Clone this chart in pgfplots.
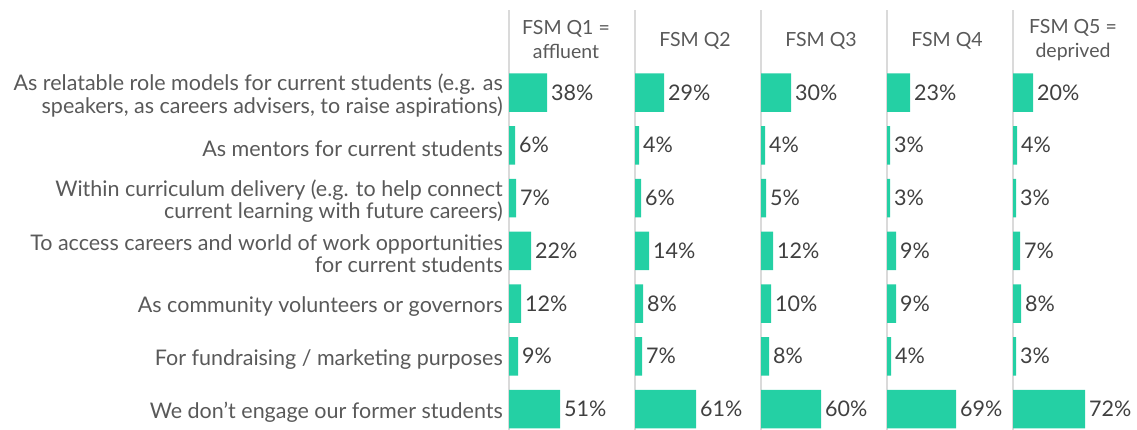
\documentclass[border=0pt]{standalone}
\usepackage{pgfplots}
\pgfplotsset{compat=1.18}
\usepackage{fontspec}
\setmainfont{Lato}
\definecolor{barc}{RGB}{36,208,164}
\definecolor{lab}{RGB}{89,89,89}
\definecolor{val}{RGB}{64,64,64}
\definecolor{sep}{RGB}{218,218,218}
\newcommand{\lf}{\fontsize{21.5}{22.5}\selectfont}
\newcommand{\hf}{\fontsize{19.5}{24}\selectfont}

\pgfplotsset{panel/.style={
  xbar, bar width=0.73, bar shift=0pt,
  scale only axis, width=126pt, height=420pt,
  xmin=0, xmax=126, ymin=-1.564, ymax=6.398, y dir=reverse,
  axis lines*=left,
  x axis line style={draw=none},
  y axis line style={draw=sep, line width=2pt},
  xtick=\empty, ytick=\empty,
  major tick length=0pt,
  clip=false,
  point meta=x,
  nodes near coords={\pgfmathprintnumber[assume math mode=true]{\pgfplotspointmeta}\%},
  nodes near coords style={anchor=west, font=\lf, text=val, inner sep=0pt, xshift=4pt},
}}

\begin{document}
\begin{tikzpicture}
\useasboundingbox (0,0) rectangle (1137pt,-430pt);

\begin{axis}[panel, at={(509pt,-10pt)}, anchor=north west,
  ytick={0,1,2,3,4,5,6},
  yticklabels={{As relatable role models for current students (e.g. as\\speakers, as careers advisers, to raise aspirations)},
    {As mentors for current students},
    {Within curriculum delivery (e.g. to help connect\\current learning with future careers)},
    {To access careers and world of work opportunities\\for current students},
    {As community volunteers or governors},
    {For fundraising / marketing purposes},
    {We don’t engage our former students}},
  yticklabel style={align=right, font=\lf, text=lab, inner sep=0pt, xshift=-6pt, yshift=-3pt},
]
\addplot[fill=barc, draw=none] coordinates {(38,0) (6,1) (7,2) (22,3) (12,4) (9,5) (51,6)};
\node[align=center, font=\hf, text=lab] at (axis cs:57,-1.0) {FSM Q1 =\\affluent};
\end{axis}

\begin{axis}[panel, at={(635pt,-10pt)}, anchor=north west]
\addplot[fill=barc, draw=none] coordinates {(29,0) (4,1) (6,2) (14,3) (8,4) (7,5) (61,6)};
\node[align=center, font=\hf, text=lab] at (axis cs:60,-0.98) {FSM Q2};
\end{axis}

\begin{axis}[panel, at={(761pt,-10pt)}, anchor=north west]
\addplot[fill=barc, draw=none] coordinates {(30,0) (4,1) (5,2) (12,3) (10,4) (8,5) (60,6)};
\node[align=center, font=\hf, text=lab] at (axis cs:60,-0.98) {FSM Q3};
\end{axis}

\begin{axis}[panel, at={(887pt,-10pt)}, anchor=north west]
\addplot[fill=barc, draw=none] coordinates {(23,0) (3,1) (3,2) (9,3) (9,4) (4,5) (69,6)};
\node[align=center, font=\hf, text=lab] at (axis cs:60,-0.98) {FSM Q4};
\end{axis}

\begin{axis}[panel, at={(1013pt,-10pt)}, anchor=north west]
\addplot[fill=barc, draw=none] coordinates {(20,0) (4,1) (3,2) (7,3) (8,4) (3,5) (72,6)};
\node[align=center, font=\hf, text=lab] at (axis cs:60,-1.0) {FSM Q5 =\\deprived};
\end{axis}
\end{tikzpicture}
\end{document}
